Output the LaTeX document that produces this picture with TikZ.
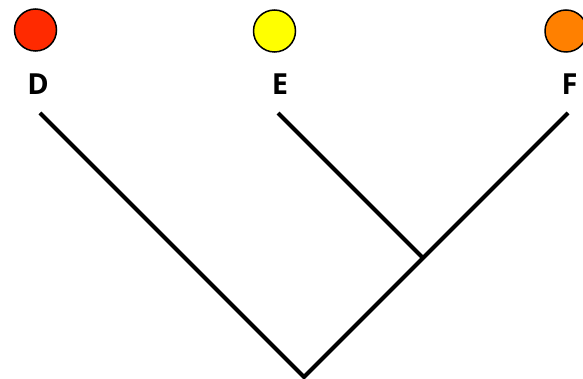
\documentclass[tikz,border=0pt]{standalone}
\usepackage{fontspec}
\setmainfont{Open Sans}
\definecolor{cred}{HTML}{FF2A00}
\definecolor{cyel}{HTML}{FFFF00}
\definecolor{corg}{HTML}{FF8000}
\begin{document}
\begin{tikzpicture}[x=1pt,y=-1pt,
  dot/.style={circle,draw=black,line width=1.5pt,minimum size=42pt,inner sep=0pt},
  lab/.style={font=\fontsize{29}{30}\selectfont\bfseries,inner sep=0pt,anchor=base},
  branch/.style={line width=4pt,line cap=butt}]
\useasboundingbox (0,0) rectangle (583,379);
\begin{scope}
\clip (0,0) rectangle (583,379);
\node[dot,fill=cred] (cd) at (35.5,30) {};
\node[dot,fill=cyel] (ce) at (274.5,31) {};
\node[dot,fill=corg] (cf) at (566,31) {};
\end{scope}
\node[lab] (ld) at (38,95) {D};
\node[lab] (le) at (280,95) {E};
\node[lab] (lf) at (569.5,95) {F};
\coordinate (td) at (40,113);
\coordinate (te) at (278,113);
\coordinate (tf) at (568,113);
\coordinate (root) at (304,377);
\coordinate (j) at (423,258);
\draw[branch] (td) -- (root) -- (tf);
\draw[branch] (te) -- (j);
\end{tikzpicture}
\end{document}
